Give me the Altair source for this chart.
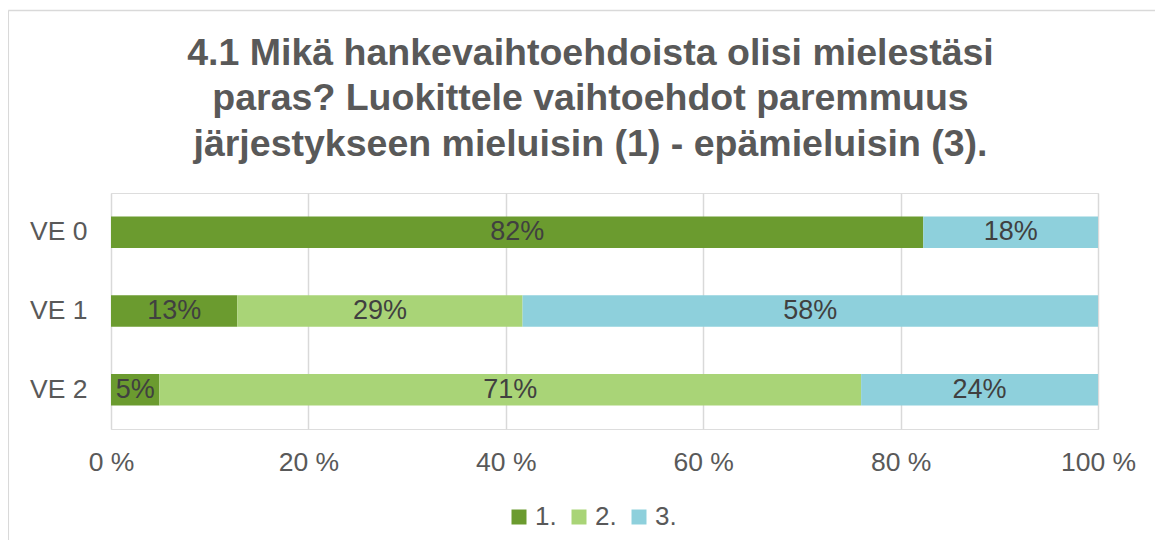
import altair as alt
import pandas as pd

# ---- data ----
categories = ["VE 0", "VE 1", "VE 2"]
ranks = ["1.", "2.", "3."]
share_rank1 = [0.823, 0.128, 0.049]
share_rank2 = [0.0, 0.289, 0.711]
share_rank3 = [0.177, 0.583, 0.240]
x_ticks = [0, 0.2, 0.4, 0.6, 0.8, 1.0]
colors = ["#6B9B2F", "#A9D477", "#8ED0DC"]
title_lines = [
    "4.1 Mikä hankevaihtoehdoista olisi mielestäsi",
    "paras? Luokittele vaihtoehdot paremmuus",
    "järjestykseen mieluisin (1) - epämieluisin (3).",
]

rows = []
for i, c in enumerate(categories):
    for r, s in zip(ranks, [share_rank1[i], share_rank2[i], share_rank3[i]]):
        if s > 0:
            rows.append({"cat": c, "rank": r, "share": s})
df = pd.DataFrame(rows)

FONT = "Liberation Sans"
GRAY = "#595959"

base = (
    alt.Chart(df)
    .transform_stack(stack="share", groupby=["cat"], as_=["x0", "x1"],
                     sort=[alt.SortField("rank")])
    .transform_calculate(mid="(datum.x0 + datum.x1) / 2")
)

y_enc = alt.Y(
    "cat:N", sort=categories,
    scale=alt.Scale(paddingInner=0.6, paddingOuter=0.3),
    axis=alt.Axis(title=None, ticks=False, domain=False, labelFontSize=26.5,
                  labelColor=GRAY, labelFont=FONT, labelPadding=24),
)

bars = base.mark_bar().encode(
    y=y_enc,
    x=alt.X(
        "x0:Q", scale=alt.Scale(domain=[0, 1]),
        axis=alt.Axis(values=x_ticks, labelExpr="round(datum.value*100) + ' %'",
                      title=None, ticks=False, domain=False, grid=True,
                      gridColor="#d9d9d9", gridWidth=1.5, labelFontSize=26.5,
                      labelColor=GRAY, labelFont=FONT, labelPadding=20,
                      labelFlush=False),
    ),
    x2="x1:Q",
    color=alt.Color(
        "rank:N", scale=alt.Scale(domain=ranks, range=colors),
        legend=alt.Legend(title=None, orient="none", legendX=395, legendY=311,
                          direction="horizontal", symbolType="square",
                          symbolSize=225, symbolStrokeWidth=0, labelFontSize=26,
                          labelColor=GRAY, labelFont=FONT, labelOffset=3,
                          columnPadding=9, padding=0),
    ),
)

labels = base.mark_text(fontSize=27, color="#404040", font=FONT).encode(
    y=alt.Y("cat:N", sort=categories),
    x="mid:Q",
    text=alt.Text("share:Q", format=".0%"),
)

frame_src = alt.Chart(pd.DataFrame({"a": [0]}))
frame_left = frame_src.mark_rule(color="#d9d9d9", strokeWidth=1.5).encode(
    x=alt.value(-102.7), y=alt.value(-182.5), y2=alt.value(347)
)
frame_top = frame_src.mark_rule(color="#d9d9d9", strokeWidth=1.5).encode(
    x=alt.value(-102.7), x2=alt.value(1044), y=alt.value(-182.5)
)

chart = (
    alt.layer(frame_left, frame_top, bars, labels)
    .properties(
        width=987, height=236,
        autosize=alt.AutoSizeParams(type="none"),
        padding={"left": 103, "top": 185, "right": 57, "bottom": 111},
        title=alt.TitleParams(
            text=title_lines, fontSize=37.5, font=FONT, fontWeight="bold",
            color=GRAY, anchor="middle", frame="group", baseline="top",
            offset=-153.5, lineHeight=45.5, dx=-14,
        ),
    )
    .configure_view(strokeWidth=0)
    .configure(font=FONT)
)

chart.save("out.html", embed_options={"renderer": "svg", "actions": False})
